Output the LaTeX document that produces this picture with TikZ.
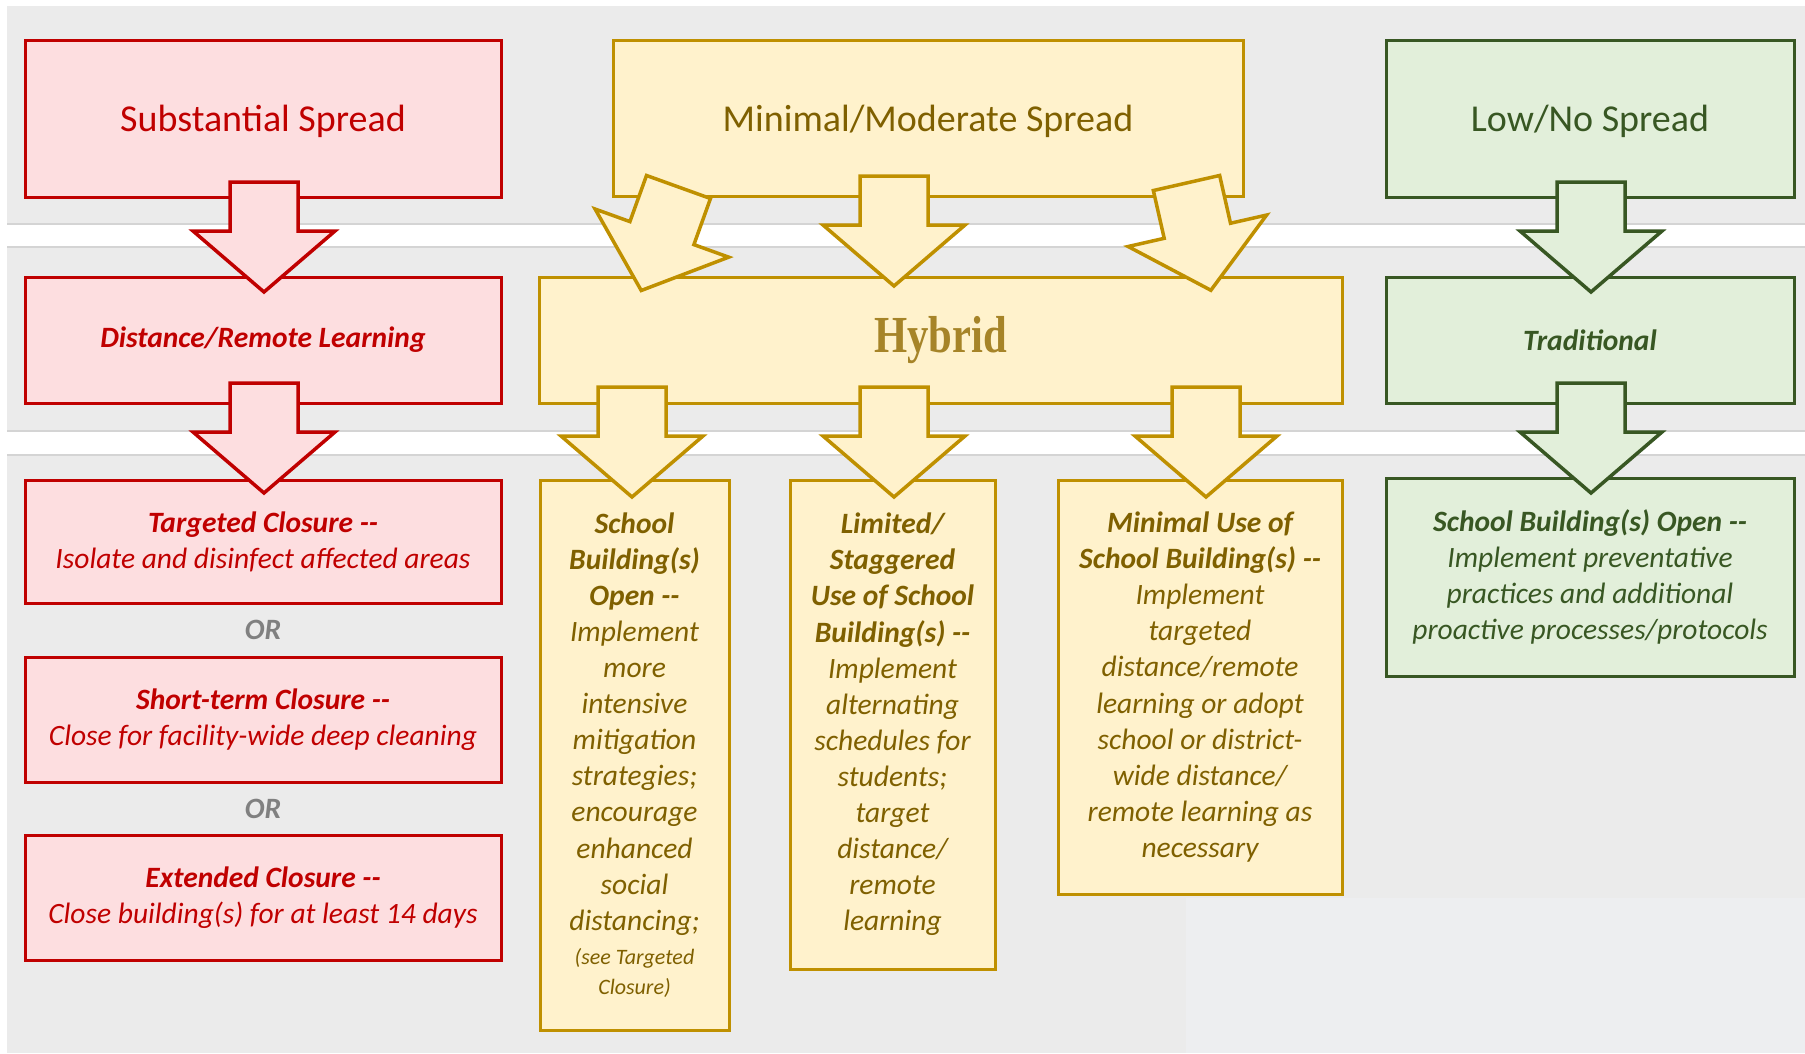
\documentclass[tikz,border=0pt]{standalone}
\usepackage{fontspec}
\setmainfont{Carlito}
\newfontfamily\hybridfont[FakeStretch=0.82]{Liberation Serif}
\usetikzlibrary{positioning,calc}

\definecolor{bgray}{RGB}{235,235,235}
\definecolor{lgray}{RGB}{237,238,240}
\definecolor{bandline}{RGB}{212,212,212}
\definecolor{redline}{RGB}{192,0,0}
\definecolor{redfill}{RGB}{253,222,224}
\definecolor{yelline}{RGB}{191,144,0}
\definecolor{yelfill}{RGB}{255,242,204}
\definecolor{yeltext}{RGB}{127,96,0}
\definecolor{hybtext}{RGB}{166,132,40}
\definecolor{grnline}{RGB}{56,87,35}
\definecolor{grnfill}{RGB}{226,239,218}
\definecolor{orgray}{RGB}{128,128,128}

\begin{document}
\begin{tikzpicture}[
  x=1pt,y=-1pt,
  box/.style={draw,line width=3pt,align=center,inner sep=0pt},
  redbox/.style={box,draw=redline,fill=redfill,text=redline},
  yelbox/.style={box,draw=yelline,fill=yelfill,text=yeltext},
  grnbox/.style={box,draw=grnline,fill=grnfill,text=grnline},
  toptext/.style={font=\fontsize{38}{46}\selectfont,text depth=0pt},
  midtext/.style={font=\fontsize{29.5}{36}\selectfont\bfseries\itshape},
  bodytext/.style={font=\fontsize{29.5}{36.1}\selectfont\itshape},
  ortext/.style={text=orgray,font=\fontsize{29.5}{36}\selectfont\bfseries\itshape,inner sep=0pt},
  redarrow/.style={draw=redline,fill=redfill,line width=3.5pt},
  yelarrow/.style={draw=yelline,fill=yelfill,line width=3.5pt},
  grnarrow/.style={draw=grnline,fill=grnfill,line width=3.5pt},
  bigarrow/.pic={\draw[#1] (-34,0) -- (34,0) -- (34,49) -- (71,49) -- (0,110) -- (-71,49) -- (-34,49) -- cycle;}
]
\useasboundingbox (0,0) rectangle (1805,1053);
% background and bands
\fill[white] (0,0) rectangle (1805,1053);
\fill[bgray] (7,6) rectangle (1805,1053);
\fill[lgray] (1186,898) rectangle (1805,1053);
\fill[white] (7,224) rectangle (1805,247);
\fill[white] (7,431) rectangle (1805,455);
\draw[bandline,line width=2pt] (7,224) -- (1805,224) (7,247) -- (1805,247)
  (7,431) -- (1805,431) (7,455) -- (1805,455);

% top row
\node[redbox,toptext,minimum width=476pt,minimum height=157pt] (subst) at (263,118.5) {Substantial Spread};
\node[yelbox,toptext,minimum width=630pt,minimum height=156pt] (minimal) at (928,118) {Minimal/Moderate Spread};
\node[grnbox,toptext,minimum width=408pt,minimum height=157pt] (low) at (1590,118.5) {Low/No Spread};

% middle row
\node[redbox,midtext,minimum width=476pt,minimum height=126pt] (distance) at (263,340) {Distance/Remote Learning};
\node[yelbox,text=hybtext,font=\hybridfont\bfseries\fontsize{52}{60}\selectfont,minimum width=803pt,minimum height=126pt] (hybrid) at (940.5,340) {Hybrid};
\node[grnbox,midtext,minimum width=408pt,minimum height=126pt] (trad) at (1590,340) {Traditional};

% closures
\node[redbox,bodytext,minimum width=476pt,minimum height=123pt] (targeted) at (263,541.5)
  {\textbf{Targeted Closure -{}-}\\ Isolate and disinfect affected areas};
\node[redbox,bodytext,minimum width=476pt,minimum height=125pt] (shortterm) at (263,719.5)
  {\textbf{Short-term Closure -{}-}\\ Close for facility-wide deep cleaning};
\node[redbox,bodytext,minimum width=476pt,minimum height=125pt] (extended) at (263,897.5)
  {\textbf{Extended Closure -{}-}\\ Close building(s) for at least 14 days};
\node[ortext] (or1) at ($(targeted.south)!0.5!(shortterm.north)$) {OR};
\node[ortext] (or2) at ($(shortterm.south)!0.5!(extended.north)$) {OR};

% hybrid options
\node[yelbox,bodytext,minimum width=189pt,minimum height=550pt] (schoolopen) at (634.5,755)
  {\textbf{School}\\ \textbf{Building(s)}\\ \textbf{Open -{}-}\\ Implement\\ more\\ intensive\\ mitigation\\
   strategies;\\ encourage\\ enhanced\\ social\\ distancing;\\[-2pt]
   {\fontsize{22}{26}\selectfont (see Targeted}\\[-6pt] {\fontsize{22}{26}\selectfont Closure)}};
\node[yelbox,bodytext,minimum width=205pt,minimum height=489pt] (limited) at (892.5,724.5)
  {\textbf{Limited/}\\ \textbf{Staggered}\\ \textbf{Use of School}\\ \textbf{Building(s) -{}-}\\ Implement\\
   alternating\\ schedules for\\ students;\\ target\\ distance/\\ remote\\ learning};
\node[yelbox,bodytext,minimum width=284pt,minimum height=414pt] (minuse) at (1200,687)
  {\textbf{Minimal Use of}\\ \textbf{School Building(s) -{}-}\\ Implement\\ targeted\\ distance/remote\\
   learning or adopt\\ school or district-\\ wide distance/\\ remote learning as\\ necessary};

% traditional option
\node[grnbox,bodytext,minimum width=408pt,minimum height=198pt] (grnopen) at (1590,577)
  {\textbf{School Building(s) Open -{}-}\\ Implement preventative\\ practices and additional\\ proactive processes/protocols};

% block arrows
\pic at (264,182) {bigarrow=redarrow};
\pic at (264,383) {bigarrow=redarrow};
\pic at (1591,182) {bigarrow=grnarrow};
\pic at (1591,383) {bigarrow=grnarrow};
\pic[rotate=-19.8] at (678.5,187) {bigarrow=yelarrow};
\pic at (894,176) {bigarrow=yelarrow};
\pic[rotate=12.8] at (1186.5,183) {bigarrow=yelarrow};
\pic at (632,387) {bigarrow=yelarrow};
\pic at (894,387) {bigarrow=yelarrow};
\pic at (1206,387) {bigarrow=yelarrow};
\end{tikzpicture}
\end{document}
